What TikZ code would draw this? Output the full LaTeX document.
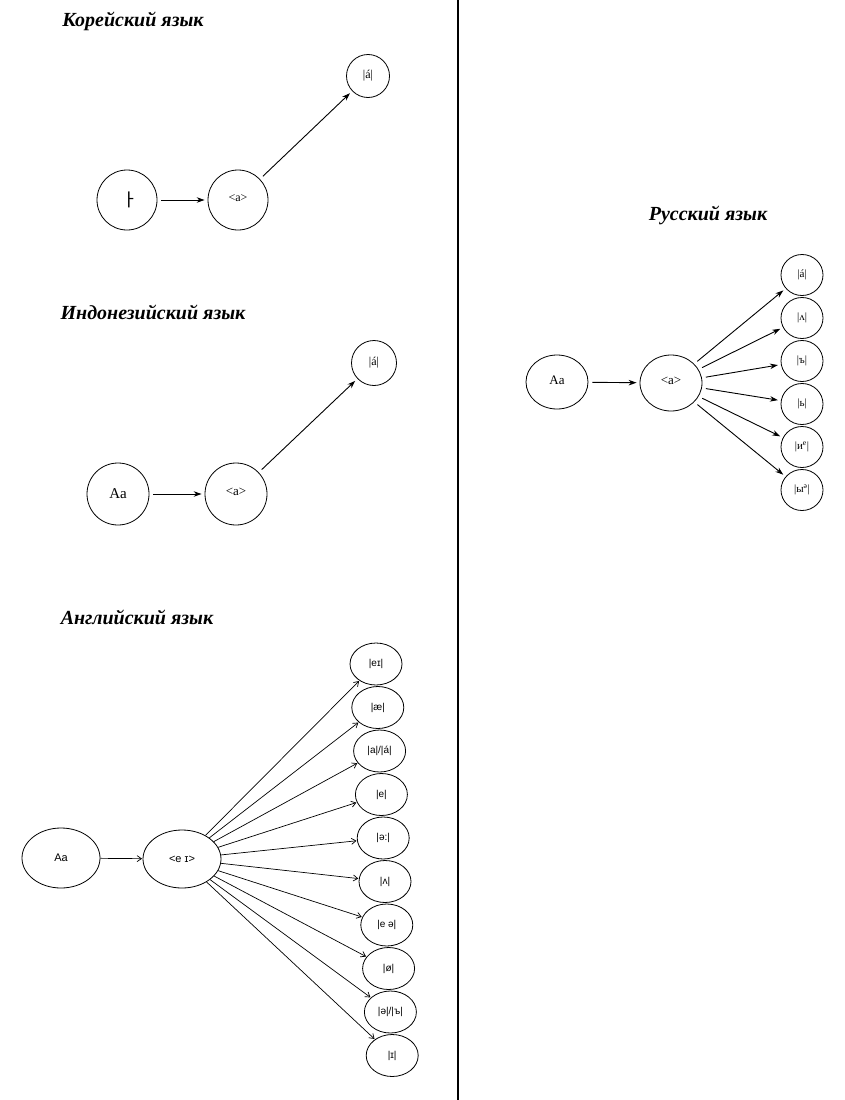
\documentclass[tikz,border=0pt]{standalone}
\usepackage{fontspec}
\setmainfont{Liberation Serif}
\newfontfamily\ipasans{Liberation Sans}
\newfontfamily\hangul{Noto Sans CJK KR}
\usetikzlibrary{arrows.meta,shapes.geometric}

\tikzset{
    title/.style={font=\fontsize{20}{22}\selectfont\bfseries\itshape},
    ring/.style={draw, circle, line width=0.8pt, inner sep=0pt},
    oval/.style={draw, ellipse, line width=0.8pt, inner sep=0pt},
    fwd/.style={-{Stealth[length=8pt,width=5.5pt]}, line width=0.9pt, shorten <=4pt, shorten >=3pt},
    thinfwd/.style={-{Straight Barb[length=4.5pt,width=6pt]}, line width=0.7pt, shorten >=0.5pt}
}

\begin{document}
\begin{tikzpicture}[x=1pt, y=-1pt]
    \useasboundingbox (0,0) rectangle (844,1100);

    % ====== Separator ======
    \draw[line width=2.5pt] (458,0) -- (458,1100);

    % ===== Korean =====
    \node[title] (korTitle) at (133,21) {Корейский язык};
    \node[ring, minimum size=60, font=\fontsize{18}{18}\selectfont\hangul] (korA) at (127,200) {\hspace{6pt}ㅏ};
    \node[ring, minimum size=60, font=\fontsize{12}{12}\selectfont] (korB) at (238,200) {\raisebox{4pt}{<a>}};
    \node[ring, minimum size=43, font=\fontsize{12}{12}\selectfont] (korC) at (368,76) {|á|};
    \draw[fwd] (korA) -- (korB);
    \draw[fwd] (korB) -- (korC);

    % ===== Indonesian =====
    \node[title] (indTitle) at (153,312) {Индонезийский язык};
    \node[ring, minimum size=62, font=\fontsize{15}{15}\selectfont] (indA) at (118,494) {Aa};
    \node[ring, minimum size=62, font=\fontsize{13}{13}\selectfont] (indB) at (236,494) {\raisebox{4pt}{<a>}};
    \node[ring, minimum size=45, font=\fontsize{12}{12}\selectfont] (indC) at (374,363) {|á|};
    \draw[fwd] (indA) -- (indB);
    \draw[fwd] (indB) -- (indC);

    % ===== Russian =====
    \node[title] (ruTitle) at (708,215) {Русский язык};
    \node[oval, minimum width=62, minimum height=54, font=\fontsize{13}{13}\selectfont] (ruA) at (557,382) {\raisebox{4pt}{Aa}};
    \node[oval, minimum width=62, minimum height=56, font=\fontsize{13}{13}\selectfont] (ruB) at (671,383) {\raisebox{4pt}{<a>}};
    \draw[fwd] (ruA) -- (ruB);
    \foreach \lbl [count=\k from 0] in {|á|, |ʌ|, |ъ|, |ь|, |и\textsuperscript{e}|, |ы\textsuperscript{ə}|} {
        % targets stacked to the right
        \node[oval, minimum width=42, minimum height=41, font=\fontsize{11}{11}\selectfont] (ruT\k) at (802,{275+43*\k}) {\lbl};
        \draw[fwd] (ruB) -- (ruT\k);
    }

    % ===== English =====
    \node[title] (enTitle) at (137,617) {Английский язык};
    \node[oval, minimum width=78, minimum height=60, font=\fontsize{11}{11}\selectfont\ipasans] (enA) at (61,858) {Aa};
    \node[oval, minimum width=78, minimum height=58, font=\fontsize{11}{11}\selectfont\ipasans] (enB) at (182,859) {<e ɪ>};
    \draw[thinfwd] (enA) -- (enB);
    \foreach \lbl [count=\k from 0] in {|eɪ|, |æ|, |a|/|á|, |e|, |ə:|, |ʌ|, |e ə|, |ø|, |ə|/|ъ|, |ɪ|} {
        % targets drift slightly to the right going down
        \node[oval, minimum width=52, minimum height=42, font=\fontsize{10}{10}\selectfont\ipasans] (enT\k) at ({376+1.8*\k},{664+43.5*\k}) {\lbl};
        \draw[thinfwd] (enB) -- (enT\k);
    }

\end{tikzpicture}
\end{document}
